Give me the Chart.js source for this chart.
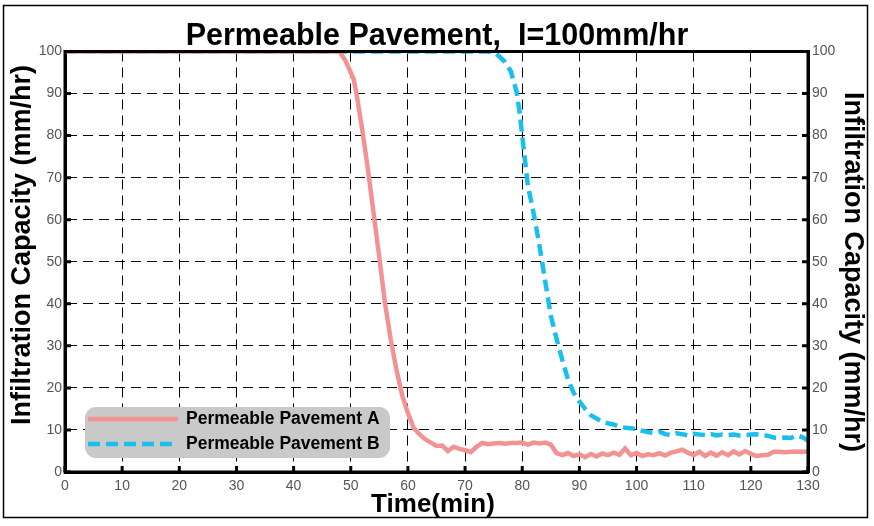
<!DOCTYPE html>
<html>
<head>
<meta charset="utf-8">
<script src="https://cdn.jsdelivr.net/npm/chart.js@4.4.1/dist/chart.umd.min.js"></script>
<style>
  html, body { margin: 0; padding: 0; background: #fff; }
  #wrap { width: 874px; height: 526px; }
</style>
</head>
<body>
<div id="wrap"><canvas id="chart"></canvas></div>
<script>
// =======================
// DATA
// =======================

const timeA = [0, 48, 49, 50, 50.5, 51, 52, 53, 54, 55, 56, 57, 58, 59, 60, 61, 62, 63, 64, 65,
  66, 67, 68, 69, 70, 71, 72, 73, 74, 75, 76, 77, 78, 79, 80, 81, 82, 83, 84, 85,
  86, 87, 88, 89, 90, 91, 92, 93, 94, 95, 96, 97, 98, 99, 100, 101, 102, 103, 104, 105,
  106, 107, 108, 109, 110, 111, 112, 113, 114, 115, 116, 117, 118, 119, 120, 121, 122, 123, 124, 125,
  126, 127, 128, 129, 130];
const capA = [100, 100, 98, 95, 93.5, 90, 81.5, 72, 61.5, 51, 40, 31.5, 24.3, 18.2, 14, 10.5, 9, 7.8, 7, 6.2,
  6.3, 5, 6, 5.5, 5.2, 4.7, 6, 6.9, 6.6, 6.8, 6.9, 6.7, 6.9, 6.9, 7.0, 6.5, 7.0, 6.8, 7.0, 6.5,
  4.5, 4.0, 4.5, 3.8, 4.2, 3.5, 4.3, 3.7, 4.4, 4.0, 4.6, 4.1, 5.6, 4.0, 4.5, 3.8, 4.2, 4.0, 4.5, 3.9,
  4.6, 4.9, 5.3, 4.6, 4.0, 4.8, 3.8, 4.6, 3.9, 4.7, 4.0, 4.9, 4.2, 5.0, 4.3, 3.8, 4.0, 4.1, 4.8, 4.8,
  4.7, 4.8, 4.9, 4.8, 4.9];

const timeB = [0, 74, 75, 76, 77, 78, 79, 79.5, 80, 81, 82, 83, 84, 85, 86, 87, 88, 89, 90, 91,
  92, 93, 94, 95, 96, 97, 98, 99, 100, 101, 102, 103, 104, 105, 106, 107, 108, 109, 110, 111,
  112, 113, 114, 115, 116, 117, 118, 119, 120, 121, 122, 123, 124, 125, 126, 127, 128, 129, 130];
const capB = [100, 100, 99.8, 98.8, 97.5, 95.3, 90.5, 86, 80, 68, 61.5, 54, 45.5, 37.2, 31.7, 26.7, 22, 18.8, 16.8, 15,
  13.5, 12.7, 12, 11.6, 11.3, 10.8, 10.5, 10.4, 10.2, 9.8, 9.5, 9.3, 9.6, 9.0, 8.8, 9.2, 9.0, 8.7, 9.1, 8.9,
  8.8, 9.0, 8.7, 8.9, 8.8, 8.9, 8.7, 8.8, 8.9, 9.0, 8.8, 8.6, 8.2, 8.1, 8.2, 8.1, 8.7, 8.3, 7.5];

const labelA = "Permeable Pavement A";
const labelB = "Permeable Pavement B";
const titleText = "Permeable Pavement,  I=100mm/hr";
const xTitle = "Time(min)";
const yTitle = "Infiltration Capacity (mm/hr)";

const xMin = 0, xMax = 130, xStep = 10;
const yMin = 0, yMax = 100, yStep = 10;

// =======================
// HELPERS
// =======================

function toPoints(xs, ys) {
  return xs.map((x, i) => ({ x: x, y: ys[i] }));
}

const tickFont = { family: "'Liberation Sans', Arial, sans-serif", size: 14 };
const tickColor = "#555";

// =======================
// PLUGIN : cadre, légende, titres d'axes
// =======================

const decorPlugin = {
  id: "decor",
  beforeDraw(chart) {
    const ctx = chart.ctx;
    ctx.save();
    ctx.fillStyle = "#fff";
    ctx.fillRect(0, 0, chart.width, chart.height);
    ctx.strokeStyle = "#000";
    ctx.lineWidth = 1.5;
    ctx.strokeRect(3.5, 5.5, 864, 512);
    ctx.restore();
  },
  afterDatasetsDraw(chart) {
    const ctx = chart.ctx;
    const a = chart.chartArea;
    const xs = chart.scales.x;
    const yl = chart.scales.y;

    ctx.save();
    // cadre du graphique
    ctx.strokeStyle = "#000";
    ctx.lineWidth = 3;
    ctx.strokeRect(a.left, a.top, a.right - a.left, a.bottom - a.top);

    // petites graduations vers l'intérieur
    ctx.lineWidth = 3;
    ctx.beginPath();
    xs.ticks.forEach(t => {
      const px = xs.getPixelForValue(t.value);
      ctx.moveTo(px, a.bottom);
      ctx.lineTo(px, a.bottom - 6);
    });
    yl.ticks.forEach(t => {
      const py = yl.getPixelForValue(t.value);
      ctx.moveTo(a.left, py);
      ctx.lineTo(a.left + 6, py);
      ctx.moveTo(a.right, py);
      ctx.lineTo(a.right - 6, py);
    });
    ctx.stroke();

    // légende
    const lx = 85, ly = 407, lw = 305, lh = 51;
    ctx.fillStyle = "#c9c9c9";
    ctx.beginPath();
    ctx.roundRect(lx, ly, lw, lh, 11);
    ctx.fill();

    chart.data.datasets.forEach((ds, i) => {
      const yy = ly + 12 + i * 25;
      ctx.strokeStyle = ds.borderColor;
      ctx.lineWidth = ds.borderWidth;
      ctx.setLineDash(ds.borderDash || []);
      ctx.beginPath();
      ctx.moveTo(lx + 3, yy);
      ctx.lineTo(lx + 93, yy);
      ctx.stroke();
      ctx.setLineDash([]);
      ctx.fillStyle = "#000";
      ctx.font = "bold 17.5px 'Liberation Sans', Arial, sans-serif";
      ctx.textAlign = "left";
      ctx.textBaseline = "middle";
      ctx.fillText(ds.label, lx + 101, yy);
    });

    // titres d'axes
    ctx.fillStyle = "#000";
    ctx.textAlign = "center";
    ctx.textBaseline = "middle";
    ctx.font = "bold 26px 'Liberation Sans', Arial, sans-serif";
    ctx.fillText(xTitle, 433, 505);

    ctx.font = "bold 27px 'Liberation Sans', Arial, sans-serif";
    ctx.save();
    ctx.translate(23, 245);
    ctx.rotate(-Math.PI / 2);
    ctx.fillText(yTitle, 0, 0);
    ctx.restore();

    ctx.save();
    ctx.translate(852, 272);
    ctx.rotate(Math.PI / 2);
    ctx.fillText(yTitle, 0, 0);
    ctx.restore();

    ctx.restore();
  }
};

// =======================
// CHART
// =======================

const chart = new Chart(document.getElementById("chart"), {
  type: "line",
  data: {
    datasets: [
      {
        label: labelA,
        data: toPoints(timeA, capA),
        borderColor: "#f39292",
        borderWidth: 4.5,
        pointRadius: 0,
        tension: 0,
        fill: false
      },
      {
        label: labelB,
        data: toPoints(timeB, capB),
        borderColor: "#1bbfee",
        borderWidth: 4.5,
        borderDash: [12, 6],
        pointRadius: 0,
        tension: 0,
        fill: false
      }
    ]
  },
  options: {
    responsive: true,
    maintainAspectRatio: false,
    animation: false,
    devicePixelRatio: 1,
    layout: { padding: 0 },
    plugins: {
      legend: { display: false },
      tooltip: { enabled: false },
      title: {
        display: true,
        text: titleText,
        color: "#000",
        font: { family: "'Liberation Sans', Arial, sans-serif", size: 30.5, weight: "bold", lineHeight: 1 },
        padding: { top: 21, bottom: 0 }
      }
    },
    scales: {
      x: {
        type: "linear",
        min: xMin,
        max: xMax,
        afterFit: s => { s.height = 54; },
        ticks: { stepSize: xStep, font: tickFont, color: tickColor, padding: 6, maxRotation: 0 },
        grid: { color: "#000", lineWidth: 1, drawTicks: false },
        border: { display: true, color: "#000", width: 3, dash: [10, 6] }
      },
      y: {
        position: "left",
        min: yMin,
        max: yMax,
        afterFit: s => { s.width = 65; },
        ticks: { stepSize: yStep, font: tickFont, color: tickColor, padding: 3 },
        grid: { color: "#000", lineWidth: 1, drawTicks: false },
        border: { display: true, color: "#000", width: 3, dash: [10, 6] }
      },
      y2: {
        position: "right",
        min: yMin,
        max: yMax,
        afterFit: s => { s.width = 66; },
        ticks: { stepSize: yStep, font: tickFont, color: tickColor, padding: 4 },
        grid: { drawOnChartArea: false, drawTicks: false },
        border: { display: true, color: "#000", width: 3 }
      }
    }
  },
  plugins: [decorPlugin]
});
</script>
</body>
</html>
